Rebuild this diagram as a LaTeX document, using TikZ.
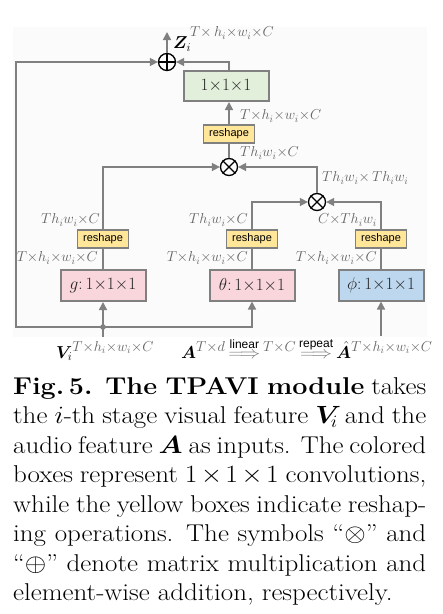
\documentclass[tikz,border=0pt]{standalone}
\usepackage{amsmath}
\usepackage{mathtools}
\usepackage{bm}
\usepackage{graphicx}
\usepackage{fontspec}
\newfontfamily\arial{Liberation Sans}
\usetikzlibrary{arrows.meta,calc}
\definecolor{lg}{RGB}{128,128,128}
\definecolor{lblc}{RGB}{100,100,100}
\definecolor{greenf}{RGB}{226,239,218}
\definecolor{pinkf}{RGB}{248,214,220}
\definecolor{bluef}{RGB}{189,215,238}
\definecolor{yelf}{RGB}{255,230,153}
\definecolor{bgf}{RGB}{251,251,251}
\newcommand{\dimlbl}[1]{\mbox{\fontsize{14.4}{16}\selectfont\color{lblc}$#1$}}
\newcommand{\arlbl}[1]{\text{\color{black}\arial\fontsize{12}{14}\selectfont #1}}
\newcommand{\xarr}[1]{\mkern3mu\overset{\arlbl{#1}}{\resizebox{32pt}{\height}{$\Longrightarrow$}}\mkern3mu}
\begin{document}
\begin{tikzpicture}[x=1pt,y=-1pt,
  conv/.style={draw=lg, line width=2pt, minimum width=85pt, minimum height=31pt, inner sep=0pt, text=black!85, font=\fontsize{17.28}{19}\selectfont},
  rsh/.style={draw=lg, line width=1.5pt, fill=yelf, minimum width=51pt, minimum height=18pt, inner sep=0pt, font=\arial\fontsize{11}{13}\selectfont},
  opc/.style={circle, draw=black, line width=1.3pt, minimum size=17pt, inner sep=0pt},
  conn/.style={draw=lg, line width=1.6pt},
  arr/.style={conn, -{Triangle[length=8pt,width=8pt]}},
  lbl/.style={text=lblc, inner sep=0pt, font=\fontsize{14.4}{16}\selectfont},
  sym/.style={draw=black, line width=1.2pt}
]
\useasboundingbox (0,0) rectangle (443,614);
\fill[bgf] (13,27) rectangle (427,337);

% operation circles
\node[opc] (plus) at (167,62) {};
\draw[sym] (plus.north) -- (plus.south) (plus.west) -- (plus.east);
\node[opc] (otop) at (229,167) {};
\draw[sym] (otop.north east) -- (otop.south west) (otop.north west) -- (otop.south east);
\node[opc] (omid) at (317,202) {};
\draw[sym] (omid.north east) -- (omid.south west) (omid.north west) -- (omid.south east);

% boxes
\node[conv, fill=greenf, minimum height=30pt] (green) at (226,86) {$1{\times}1{\times}1$};
\node[rsh] (rtop) at (229,134) {reshape};
\node[rsh] (rg) at (103,239) {reshape};
\node[rsh] (rt) at (252,239) {reshape};
\node[rsh] (rp) at (381,239) {reshape};
\node[conv, fill=pinkf] (g) at (103,285.5) {$g{:}\,1{\times}1{\times}1$};
\node[conv, fill=pinkf] (theta) at (252,285) {$\theta{:}\,1{\times}1{\times}1$};
\node[conv, fill=bluef] (phi) at (381,285) {$\phi{:}\,1{\times}1{\times}1$};

% coordinates
\coordinate (zend) at (167,32);
\coordinate (vdot) at (103,327);
\coordinate (lc) at (16,327);
\coordinate (vstart) at (103,337);
\coordinate (pstart) at (381,336);

% connectors
\draw[arr] (plus.north) -- (zend);
\draw[arr] (rtop.north |- green.north) |- (plus.east);
\draw[arr] (rtop.north) -- (rtop.north |- green.south);
\draw[conn] (otop.north) -- (rtop.south);
\draw[arr] (rg.north) |- (otop.west);
\draw[arr] (omid.north) |- (otop.east);
\draw[arr] (rt.north) |- (omid.west);
\draw[arr] (rp.north) |- (omid.east);
\draw[conn] (g.north) -- (rg.south);
\draw[conn] (theta.north) -- (rt.south);
\draw[conn] (phi.north) -- (rp.south);
\draw[arr] (vstart) -- (g.south);
\draw[arr] (vdot) -| (theta.south);
\draw[arr] (vdot) -- (lc) |- (plus.west);
\draw[arr] (pstart) -- (phi.south);
\fill[lg] (vdot) circle (2.8pt);

% dimension labels
\node[anchor=west, inner sep=0pt, font=\fontsize{17.28}{19}\selectfont] (zl) at (173,44) {$\bm{Z}_i$};
\node[lbl, anchor=west] (zd) at (190,33) {$T{\times}\,h_i{\times}w_i{\times}C$};
\node[lbl, anchor=west] (d1) at (240,116) {$T{\times}h_i{\times}w_i{\times}C$};
\node[lbl, anchor=west] (d2) at (240,153) {$Th_iw_i{\times}C$};
\node[lbl, anchor=west] (d3) at (322,178) {$Th_iw_i{\times}\,Th_iw_i$};
\node[lbl, anchor=east] (d4) at (100,220) {$Th_iw_i{\times}C$};
\node[lbl, anchor=east] (d5) at (248,220) {$Th_iw_i{\times}C$};
\node[lbl, anchor=east] (d6) at (377,220) {$C{\times}Th_iw_i$};
\node[lbl, anchor=east] (d7) at (98,258) {$T{\times}h_i{\times}w_i{\times}C$};
\node[lbl, anchor=east] (d8) at (248,258) {$T{\times}h_i{\times}w_i{\times}C$};
\node[lbl, anchor=east] (d9) at (377,258) {$T{\times}h_i{\times}w_i{\times}C$};

% inputs
\node[anchor=base west, inner sep=0pt, text=lblc, font=\fontsize{17.28}{19}\selectfont] (vi) at (56,358)
  {${\color{black}\bm{V}_i}^{\dimlbl{T{\times}h_i{\times}w_i{\times}C}}$};
\node[anchor=base west, inner sep=0pt, text=lg, font=\fontsize{17.28}{19}\selectfont] (achain) at (181,358)
  {${\color{black}\bm{A}}^{\dimlbl{T{\times}d}}\xarr{linear}{}^{\dimlbl{T{\times}C}}\xarr{repeat}{\color{black}\hat{\bm{A}}}^{\dimlbl{T{\times}h_i{\times}w_i{\times}C}}$};

% caption
\node[anchor=north west, inner sep=0pt] (caption) at (13,377)
{\scalebox{1.11}[1]{\vbox{\fontsize{24.3}{29.5}\selectfont\hsize=372.1pt\parindent=0pt
 \hbox to\hsize{\textbf{Fig.\,5. The TPAVI module} takes}
 \hbox to\hsize{the $i$-th stage visual feature $\bm{V}_{\!i}$ and the}
 \hbox to\hsize{audio feature $\bm{A}$ as inputs. The colored}
 \hbox to\hsize{boxes represent $1\times1\times1$ convolutions,}
 \hbox to\hsize{while the yellow boxes indicate reshap-}
 \hbox to\hsize{ing operations. The symbols ``$\otimes$'' and}
 \hbox to\hsize{``$\oplus$'' denote matrix multiplication and}
 \hbox{element-wise addition, respectively.}}}};
\end{tikzpicture}
\end{document}
